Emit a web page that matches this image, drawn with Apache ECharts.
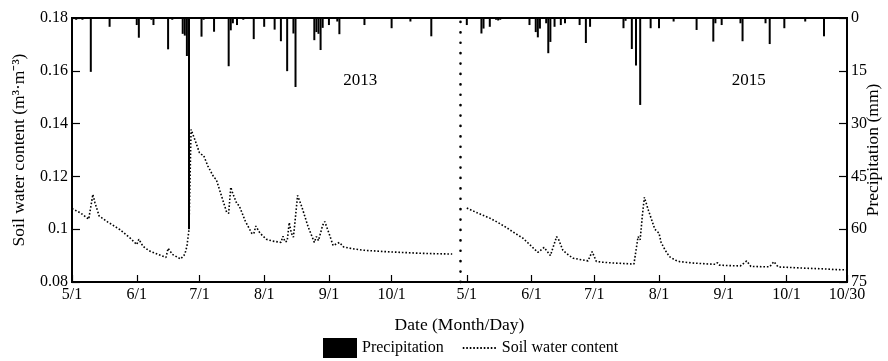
<!DOCTYPE html>
<html>
<head>
<meta charset="utf-8">
<script src="https://cdn.jsdelivr.net/npm/echarts@6/dist/echarts.min.js"></script>
<style>
html,body{margin:0;padding:0;background:#fff;}
#chart{width:888px;height:361px;}
</style>
</head>
<body>
<div id="chart"></div>
<script>
// ---- data ----
// day offset from May 1 of each year
const yearOffset2015 = 189;   // position of 2015-05-01 on the shared day axis
const dividerDay = 186;
const xTickValues = [0, 31, 61, 92, 123, 153, 189, 220, 250, 281, 312, 342, 371];
const xTickLabels = ['5/1', '6/1', '7/1', '8/1', '9/1', '10/1', '5/1', '6/1', '7/1', '8/1', '9/1', '10/1', '10/30'];

const swcDays2013 = [0, 4, 8, 9, 10, 11, 13, 17, 23, 28, 31, 32, 34, 37, 41, 45, 46, 48, 52, 54, 55, 56, 57, 59, 61, 62, 63, 65, 68, 69, 71, 74, 75, 76, 77, 79, 80, 83, 86, 87, 88, 90, 93, 96, 100, 101, 102, 103, 104, 105, 106, 108, 110, 113, 116, 117, 118, 120, 121, 123, 125, 128, 130, 135, 140, 150, 158, 166, 175, 182];
const swcValues2013 = [0.1078, 0.1062, 0.1038, 0.1085, 0.1132, 0.1100, 0.1050, 0.1028, 0.0998, 0.0965, 0.0942, 0.0962, 0.0935, 0.0918, 0.0905, 0.0893, 0.0928, 0.0905, 0.0887, 0.0905, 0.0935, 0.0998, 0.1378, 0.1335, 0.1290, 0.1283, 0.1280, 0.1240, 0.1195, 0.1190, 0.1140, 0.1065, 0.1060, 0.1159, 0.1135, 0.1095, 0.1090, 0.1030, 0.0985, 0.0982, 0.1012, 0.0985, 0.0962, 0.0955, 0.0950, 0.0973, 0.0952, 0.0955, 0.1025, 0.0985, 0.0970, 0.1128, 0.1085, 0.1010, 0.0950, 0.0972, 0.0957, 0.1015, 0.1029, 0.0985, 0.0938, 0.0950, 0.0933, 0.0925, 0.0920, 0.0915, 0.0912, 0.0909, 0.0907, 0.0906];

const swcDays2015 = [0, 5, 10, 11, 15, 19, 23, 27, 31, 34, 37, 40, 43, 44, 46, 49, 51, 55, 58, 60, 62, 65, 70, 75, 80, 81, 82, 83, 84, 85, 87, 90, 92, 93, 95, 97, 100, 102, 108, 114, 119, 120, 121, 126, 131, 134, 136, 141, 145, 147, 149, 155, 163, 170, 177, 182];
const swcValues2015 = [0.1080, 0.1062, 0.1045, 0.1042, 0.1025, 0.1006, 0.0985, 0.0965, 0.0935, 0.0912, 0.0931, 0.0900, 0.0972, 0.0960, 0.0920, 0.0900, 0.0890, 0.0884, 0.0880, 0.0915, 0.0878, 0.0875, 0.0872, 0.0870, 0.0868, 0.0920, 0.0972, 0.0960, 0.1050, 0.1121, 0.1070, 0.1000, 0.0985, 0.0950, 0.0920, 0.0896, 0.0882, 0.0877, 0.0872, 0.0869, 0.0867, 0.0873, 0.0864, 0.0862, 0.0861, 0.0880, 0.0859, 0.0858, 0.0858, 0.0877, 0.0857, 0.0855, 0.0852, 0.0850, 0.0847, 0.0846];

const rainDays2013 = [2, 5, 9, 18, 31, 32, 38, 39, 46, 48, 53, 54, 55, 56, 62, 63, 68, 75, 76, 77, 79, 82, 87, 92, 97, 100, 103, 106, 107, 116, 117, 118, 119, 120, 123, 127, 128, 140, 153, 162, 172];
const rainValues2013 = [0.5, 0.5, 15.3, 2.5, 2, 5.6, 0.5, 2, 8.9, 0.5, 4.5, 5, 10.8, 60, 5.3, 0.5, 3.9, 13.7, 3.5, 1.5, 2, 0.5, 6, 2.5, 3.3, 6.6, 15.1, 4.4, 19.6, 6.3, 4, 4.5, 9.1, 2.8, 2, 1, 4.6, 2, 2.9, 1, 5.2];

const rainDays2015 = [0, 7, 8, 11, 14, 15, 16, 30, 33, 34, 35, 38, 39, 40, 42, 45, 47, 54, 57, 59, 75, 76, 79, 81, 83, 88, 92, 99, 110, 118, 119, 122, 131, 132, 143, 145, 152, 162, 171];
const rainValues2015 = [2, 4.4, 3, 2.5, 0.5, 0.7, 0.5, 2, 4, 5.5, 3, 1.5, 10, 6.8, 2.5, 2, 1.5, 2, 7.1, 2.5, 2.9, 0.8, 8.8, 13.5, 24.7, 2.9, 2.9, 1, 3.4, 6.7, 1.5, 2, 1.5, 6.6, 1.5, 7.4, 2.9, 1, 5.2];

const yearLabels = ['2013', '2015'];
const yearLabelPos = [[138, 0.1565], [324, 0.1565]];

// ---- build series data ----
const swcData = [];
swcDays2013.forEach((d, i) => swcData.push([d, swcValues2013[i]]));
swcData.push([dividerDay, null]);
swcDays2015.forEach((d, i) => swcData.push([d + yearOffset2015, swcValues2015[i]]));

const rainData = [];
rainDays2013.forEach((d, i) => rainData.push([d, rainValues2013[i]]));
rainDays2015.forEach((d, i) => rainData.push([d + yearOffset2015, rainValues2015[i]]));

const FONT = 'Liberation Serif';
const txt = { color: '#000', fontFamily: FONT, fontSize: 16 };
const nameTxt = { color: '#000', fontFamily: FONT, fontSize: 17.5 };

const chart = echarts.init(document.getElementById('chart'), null, { renderer: 'canvas' });
chart.setOption({
  animation: false,
  backgroundColor: '#fff',
  textStyle: { fontFamily: FONT, color: '#000' },
  grid: {
    left: 72, right: 41, top: 18, bottom: 79,
    containLabel: false,
    outerBoundsMode: 'none',
    show: true,
    borderColor: '#000',
    borderWidth: 2,
    backgroundColor: 'transparent'
  },
  legend: {
    bottom: 3,
    left: 323,
    padding: 0,
    itemWidth: 34,
    itemHeight: 20,
    itemGap: 18,
    textStyle: txt,
    data: [
      { name: 'Precipitation', icon: 'rect' },
      { name: 'Soil water content', itemStyle: { opacity: 0 } }
    ]
  },
  xAxis: {
    type: 'value',
    min: 0,
    max: 371,
    name: 'Date (Month/Day)',
    nameLocation: 'middle',
    nameGap: 34,
    nameTextStyle: nameTxt,
    splitLine: { show: false },
    axisLine: { onZero: false, lineStyle: { color: '#000', width: 2 } },
    axisTick: { inside: true, length: 7, customValues: xTickValues, lineStyle: { color: '#000', width: 1.2 } },
    axisLabel: {
      customValues: xTickValues,
      margin: 5,
      ...txt,
      formatter: v => { const i = xTickValues.indexOf(v); return i >= 0 ? xTickLabels[i] : ''; }
    }
  },
  yAxis: [{
    type: 'value',
    min: 0.08,
    max: 0.18,
    interval: 0.02,
    name: 'Soil water content (m³·m⁻³)',
    nameLocation: 'middle',
    nameRotate: 90,
    nameGap: 44,
    nameTextStyle: nameTxt,
    splitLine: { show: false },
    axisLine: { show: true, onZero: false, lineStyle: { color: '#000', width: 2 } },
    axisTick: { inside: true, length: 8, lineStyle: { color: '#000', width: 1.2 } },
    axisLabel: { ...txt, margin: 4, formatter: v => String(parseFloat(v.toFixed(2))) }
  }, {
    type: 'value',
    min: 0,
    max: 75,
    interval: 15,
    inverse: true,
    position: 'right',
    name: 'Precipitation (mm)',
    nameLocation: 'middle',
    nameRotate: 90,
    nameGap: 17,
    nameMoveOverlap: false,
    nameTextStyle: nameTxt,
    splitLine: { show: false },
    axisLine: { show: true, onZero: false, lineStyle: { color: '#000', width: 2 } },
    axisTick: { inside: true, length: 8, lineStyle: { color: '#000', width: 1.2 } },
    axisLabel: { ...txt, margin: 4 }
  }],
  series: [{
    name: 'Precipitation',
    type: 'bar',
    yAxisIndex: 1,
    barWidth: 2,
    itemStyle: { color: '#000' },
    data: rainData
  }, {
    name: 'Soil water content',
    type: 'line',
    yAxisIndex: 0,
    showSymbol: false,
    connectNulls: false,
    lineStyle: { color: '#000', width: 1.6, type: [1.6, 1.9] },
    itemStyle: { color: '#000' },
    data: swcData,
    markLine: {
      silent: true,
      symbol: 'none',
      label: { show: false },
      lineStyle: { color: '#000', width: 2.6, type: [0.1, 10.3], cap: 'round' },
      data: [{ xAxis: dividerDay }]
    },
    markPoint: {
      symbol: 'rect',
      symbolSize: 0,
      label: { show: true, position: 'inside', color: '#000', fontFamily: FONT, fontSize: 17, formatter: p => p.name },
      data: yearLabels.map((t, i) => ({ name: t, coord: yearLabelPos[i] }))
    }
  }]
});
</script>
</body>
</html>
